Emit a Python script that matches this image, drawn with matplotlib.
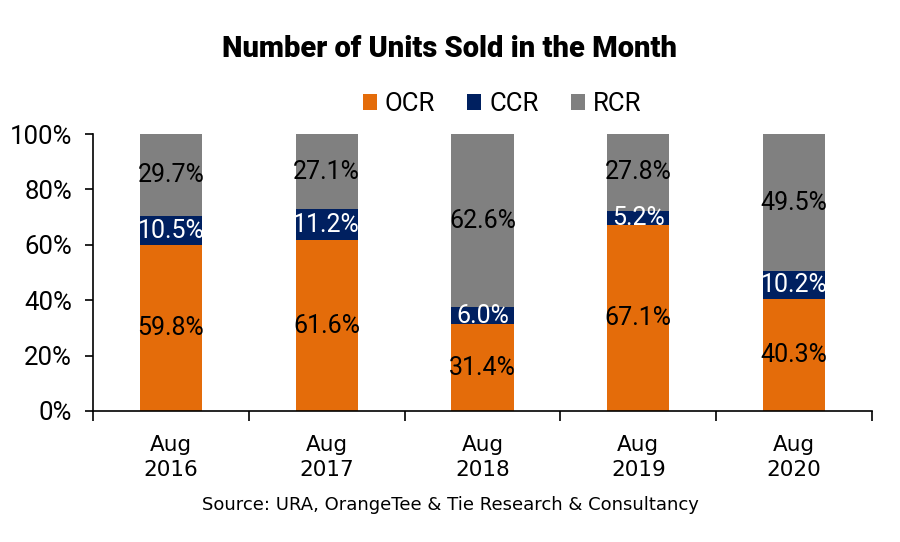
import numpy as np
import matplotlib.pyplot as plt

# data
periods = ['Aug\n2016', 'Aug\n2017', 'Aug\n2018', 'Aug\n2019', 'Aug\n2020']
ocr = [59.8, 61.6, 31.4, 67.1, 40.3]
ccr = [10.5, 11.2, 6.0, 5.2, 10.2]
rcr = [29.7, 27.1, 62.6, 27.8, 49.5]

colors = {'OCR': '#E46C0A', 'CCR': '#002060', 'RCR': '#808080'}
text_colors = {'OCR': 'black', 'CCR': 'white', 'RCR': 'black'}

plt.rcParams['font.family'] = ['Roboto', 'DejaVu Sans']

fig = plt.figure(figsize=(9, 5.42), dpi=100)
ax = fig.add_axes([93 / 900, 1 - 411 / 542, 779 / 900, 277 / 542])

x = np.arange(len(periods))
bottom = np.zeros(len(periods))
for name, vals in [('OCR', ocr), ('CCR', ccr), ('RCR', rcr)]:
    vals = np.array(vals)
    ax.bar(x, vals, width=0.4, bottom=bottom, color=colors[name], label=name)
    for xi, b, v in zip(x, bottom, vals):
        ax.text(xi, b + v / 2, '%.1f%%' % v, ha='center', va='center',
                fontsize=18, color=text_colors[name])
    bottom += vals

ax.set_xlim(-0.5, len(periods) - 0.5)
ax.set_ylim(0, 100)
ax.set_yticks(range(0, 101, 20))
ax.set_yticklabels(['%d%%' % v for v in range(0, 101, 20)], fontsize=18.5)
ax.set_xticks(x)
ax.set_xticklabels(periods, fontsize=15.5, linespacing=1.35, family=['DejaVu Sans'])
ax.tick_params(axis='x', length=0, pad=17)
ax.set_xticks(np.arange(len(periods) + 1) - 0.5, minor=True)
ax.tick_params(axis='x', which='minor', length=7, width=1.2, direction='out')
ax.tick_params(axis='y', length=6, width=1.2, direction='out', pad=9)
for s in ['top', 'right']:
    ax.spines[s].set_visible(False)
ax.spines['left'].set_linewidth(1.2)
ax.spines['bottom'].set_linewidth(1.2)

fig.text(0.5, 1 - 49 / 542, 'Number of Units Sold in the Month', ha='center',
         va='center', fontsize=21, fontweight='heavy')
fig.legend(loc='center', bbox_to_anchor=(0.5 + 52 / 900, 1 - 104 / 542), ncol=3,
           frameon=False, fontsize=18.5, handlelength=0.55, handleheight=0.55,
           handletextpad=0.3, columnspacing=1.25)
fig.text(0.5, 1 - 505 / 542, 'Source: URA, OrangeTee & Tie Research & Consultancy',
         ha='center', va='center', fontsize=13, family=['DejaVu Sans'])

fig.savefig('out.png', dpi=100)
